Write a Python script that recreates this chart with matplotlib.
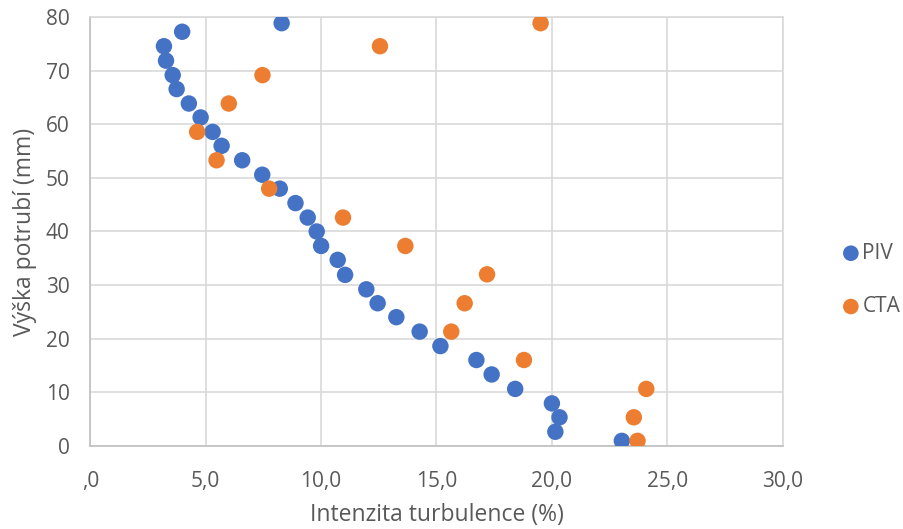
import matplotlib.pyplot as plt
from matplotlib.ticker import FuncFormatter

# Profil intenzity turbulence po výšce potrubí
piv_x = [8.29, 3.98, 3.19, 3.28, 3.57, 3.74, 4.27, 4.78, 5.30, 5.69, 6.58, 7.45,
         8.21, 8.89, 9.42, 9.81, 10.0, 10.72, 11.04, 11.96, 12.45, 13.26, 14.27,
         15.17, 16.73, 17.39, 18.41, 20.0, 20.33, 20.15, 23.03]
piv_y = [78.9, 77.3, 74.6, 71.9, 69.2, 66.6, 63.9, 61.3, 58.6, 56.0, 53.3, 50.6,
         48.0, 45.3, 42.6, 40.0, 37.3, 34.7, 31.9, 29.2, 26.6, 24.0, 21.3,
         18.6, 16.0, 13.3, 10.6, 7.9, 5.3, 2.6, 0.9]

cta_x = [19.51, 12.55, 7.46, 6.0, 4.63, 5.47, 7.75, 10.95, 13.65, 17.19,
         16.22, 15.64, 18.79, 24.09, 23.55, 23.71]
cta_y = [78.9, 74.6, 69.2, 63.9, 58.6, 53.3, 48.0, 42.6, 37.3, 32.0,
         26.6, 21.3, 16.0, 10.6, 5.3, 0.9]

x_ticks = [0, 5, 10, 15, 20, 25, 30]
y_ticks = [0, 10, 20, 30, 40, 50, 60, 70, 80]

plt.rcParams['font.family'] = ['Open Sans', 'DejaVu Sans']
text_color = '#595959'
grid_color = '#D9D9D9'

fig = plt.figure(figsize=(9.04, 5.29), dpi=100)
ax = fig.add_axes([0.0999, 0.1575, 0.7659, 0.8098])

ax.scatter(piv_x, piv_y, s=140, color='#4472C4', edgecolors='none', label='PIV', zorder=3)
ax.scatter(cta_x, cta_y, s=140, color='#ED7D31', edgecolors='none', label='CTA', zorder=3)

ax.set_xlim(0, 30)
ax.set_ylim(0, 80)
ax.set_xticks(x_ticks)
ax.set_yticks(y_ticks)


def cz_format(v, pos):
    s = f'{v:.1f}'.replace('.', ',')
    return ',0' if s == '0,0' else s


ax.xaxis.set_major_formatter(FuncFormatter(cz_format))
ax.tick_params(axis='both', length=0, labelsize=15, colors=text_color)
ax.tick_params(axis='x', pad=18)
ax.tick_params(axis='y', pad=15)

ax.grid(True, color=grid_color, linewidth=1.2)
ax.set_axisbelow(True)
for side in ['top', 'right']:
    ax.spines[side].set_color(grid_color)
    ax.spines[side].set_linewidth(1.2)
for side in ['left', 'bottom']:
    ax.spines[side].set_color('#BFBFBF')
    ax.spines[side].set_linewidth(1.2)

ax.set_xlabel('Intenzita turbulence (%)', fontsize=16.5, color=text_color, labelpad=8)
ax.set_ylabel('Výška potrubí (mm)', fontsize=16.5, color=text_color, labelpad=6)

fig.legend(loc='center left', bbox_to_anchor=(0.932, 0.471), frameon=False,
           fontsize=15, labelcolor=text_color, handletextpad=0.15, labelspacing=1.55,
           markerscale=0.95, handlelength=0.8, borderaxespad=0, borderpad=0)

fig.savefig('out.png', dpi=100)
